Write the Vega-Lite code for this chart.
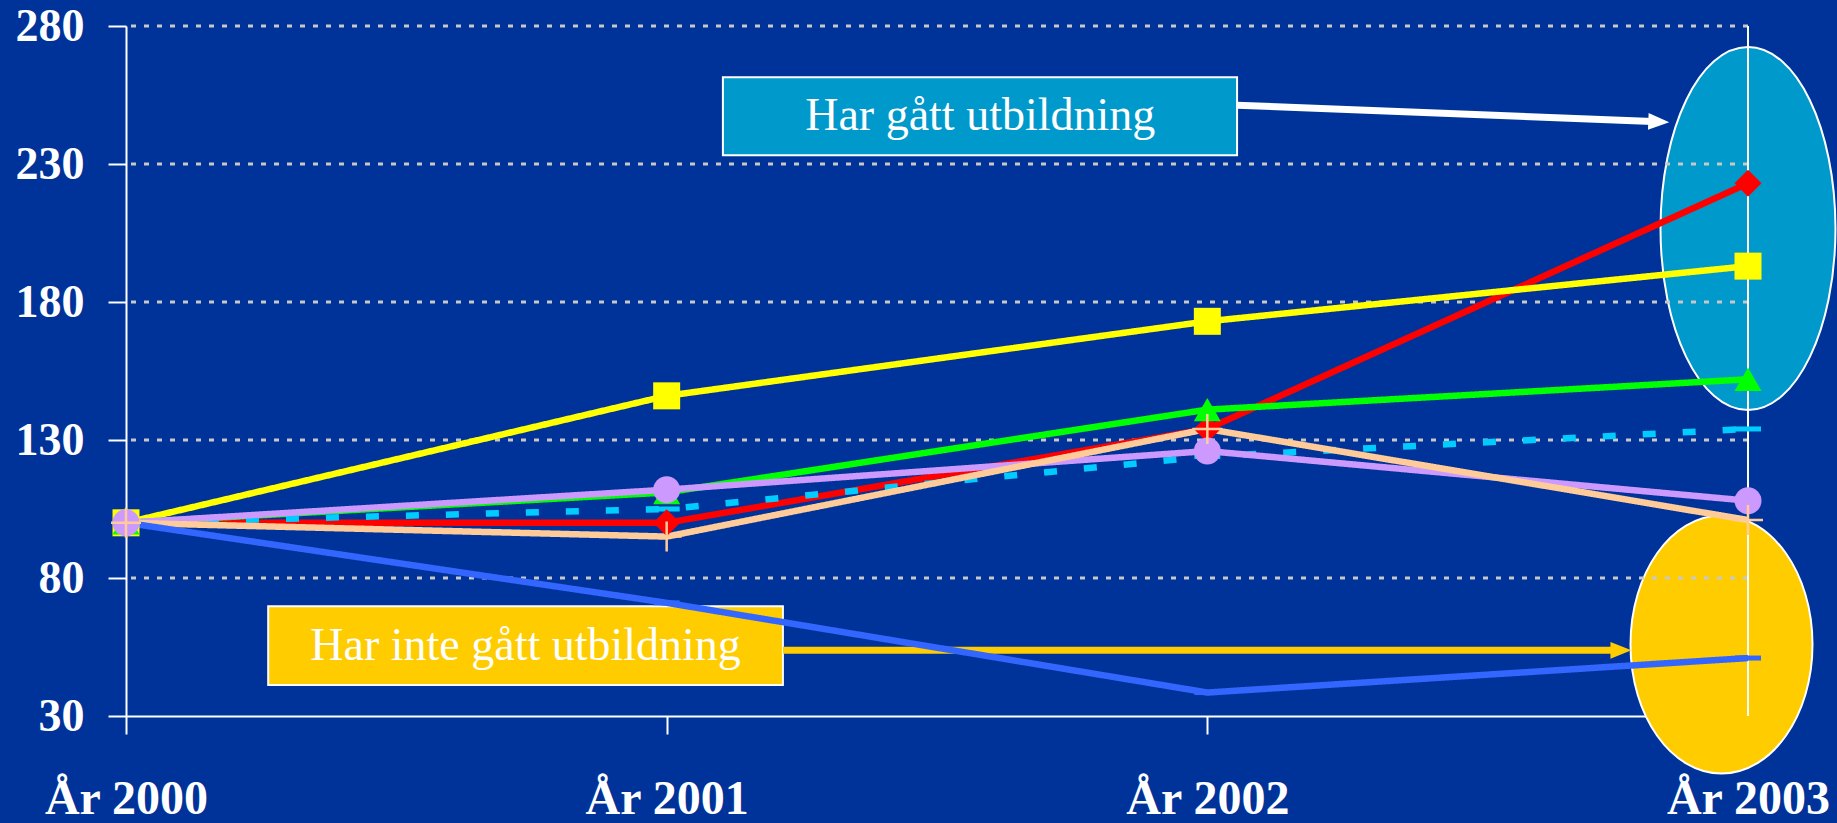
{
  "$schema": "https://vega.github.io/schema/vega-lite/v6.json",
  "width": 1622,
  "height": 690,
  "autosize": {"type": "none"},
  "padding": {"left": 126, "top": 26, "right": 89, "bottom": 107},
  "background": "#003399",
  "config": {
    "view": {"stroke": null},
    "axis": {
      "labelFont": "Liberation Serif",
      "labelFontWeight": "bold",
      "labelFontSize": 48,
      "labelColor": "white",
      "domainColor": "white",
      "domainWidth": 2,
      "tickColor": "white",
      "tickWidth": 2,
      "tickSize": 18,
      "grid": false,
      "title": null
    }
  },
  "datasets": {
    "series": [
      {"serie": "Serie 1", "year": 2000, "value": 100},
      {"serie": "Serie 1", "year": 2001, "value": 100},
      {"serie": "Serie 1", "year": 2002, "value": 134},
      {"serie": "Serie 1", "year": 2003, "value": 223},
      {"serie": "Serie 2", "year": 2000, "value": 100},
      {"serie": "Serie 2", "year": 2001, "value": 146},
      {"serie": "Serie 2", "year": 2002, "value": 173},
      {"serie": "Serie 2", "year": 2003, "value": 193},
      {"serie": "Serie 3", "year": 2000, "value": 100},
      {"serie": "Serie 3", "year": 2001, "value": 111},
      {"serie": "Serie 3", "year": 2002, "value": 141},
      {"serie": "Serie 3", "year": 2003, "value": 152},
      {"serie": "Serie 4", "year": 2000, "value": 100},
      {"serie": "Serie 4", "year": 2001, "value": 105},
      {"serie": "Serie 4", "year": 2002, "value": 124},
      {"serie": "Serie 4", "year": 2003, "value": 134},
      {"serie": "Serie 5", "year": 2000, "value": 100},
      {"serie": "Serie 5", "year": 2001, "value": 112},
      {"serie": "Serie 5", "year": 2002, "value": 126},
      {"serie": "Serie 5", "year": 2003, "value": 108},
      {"serie": "Serie 6", "year": 2000, "value": 100},
      {"serie": "Serie 6", "year": 2001, "value": 95},
      {"serie": "Serie 6", "year": 2002, "value": 134},
      {"serie": "Serie 6", "year": 2003, "value": 101},
      {"serie": "Serie 7", "year": 2000, "value": 100},
      {"serie": "Serie 7", "year": 2001, "value": 71},
      {"serie": "Serie 7", "year": 2002, "value": 38.5},
      {"serie": "Serie 7", "year": 2003, "value": 51}
    ],
    "grid": [{"g": 80}, {"g": 130}, {"g": 180}, {"g": 230}, {"g": 280}],
    "frame": [{"year": 2003}],
    "ellipseBlue": [{"year": 2003, "value": 206.6}],
    "ellipseYellow": [{"year": 2002.951, "value": 55.9}],
    "boxes": [
      {"label": "Har gått utbildning", "x": 2001.104, "x2": 2002.055, "y": 233.2, "y2": 261.45, "tx": 2001.58, "ty": 247.3},
      {"label": "Har inte gått utbildning", "x": 2000.263, "x2": 2001.215, "y": 41.2, "y2": 69.8, "tx": 2000.739, "ty": 55.5}
    ],
    "arrows": [
      {"arrow": "upper", "x": 2002.055, "y": 251.3, "x2": 2002.835, "y2": 245.3},
      {"arrow": "lower", "x": 2001.215, "y": 53.8, "x2": 2002.765, "y2": 53.8}
    ]
  },
  "layer": [
    {
      "data": {"name": "ellipseBlue"},
      "mark": {"type": "point", "filled": true, "fill": "#0099cc", "stroke": "white", "strokeWidth": 2, "opacity": 1, "fillOpacity": 1,
        "shape": "M 0.482 0 C 0.482 0.5523 0.2662 1 0 1 C -0.2662 1 -0.482 0.5523 -0.482 0 C -0.482 -0.5523 -0.2662 -1 0 -1 C 0.2662 -1 0.482 -0.5523 0.482 0 Z",
        "size": 131769},
      "encoding": {
        "x": {"field": "year", "type": "quantitative", "scale": {"domain": [2000, 2003], "nice": false, "zero": false},
          "axis": {"values": [2000, 2001, 2002, 2003], "labelExpr": "'År ' + datum.value", "labelPadding": 41, "labelFlush": false, "labelOverlap": false}},
        "y": {"field": "value", "type": "quantitative", "scale": {"domain": [30, 280], "nice": false, "zero": false},
          "axis": {"values": [30, 80, 130, 180, 230, 280], "labelPadding": 24, "labelFontSize": 46}}
      }
    },
    {
      "data": {"name": "ellipseYellow"},
      "mark": {"type": "point", "filled": true, "fill": "#ffcc00", "stroke": "white", "strokeWidth": 2, "opacity": 1, "fillOpacity": 1,
        "shape": "M 0.7054 0 C 0.7054 0.5523 0.3896 1 0 1 C -0.3896 1 -0.7054 0.5523 -0.7054 0 C -0.7054 -0.5523 -0.3896 -1 0 -1 C 0.3896 -1 0.7054 -0.5523 0.7054 0 Z",
        "size": 66564},
      "encoding": {
        "x": {"field": "year", "type": "quantitative"},
        "y": {"field": "value", "type": "quantitative"}
      }
    },
    {
      "data": {"name": "grid"},
      "mark": {"type": "rule", "stroke": "#c8c8c8", "strokeWidth": 3, "strokeDash": [5, 8]},
      "encoding": {"y": {"field": "g", "type": "quantitative"}}
    },
    {
      "data": {"name": "frame"},
      "mark": {"type": "rule", "stroke": "white", "strokeWidth": 2},
      "encoding": {"x": {"field": "year", "type": "quantitative"}}
    },
    {
      "data": {"name": "boxes"},
      "transform": [{"filter": "datum.label == 'Har gått utbildning'"}],
      "mark": {"type": "rect", "fill": "#0099cc", "stroke": "white", "strokeWidth": 2},
      "encoding": {
        "x": {"field": "x", "type": "quantitative"}, "x2": {"field": "x2"},
        "y": {"field": "y", "type": "quantitative"}, "y2": {"field": "y2"}
      }
    },
    {
      "data": {"name": "boxes"},
      "transform": [{"filter": "datum.label == 'Har inte gått utbildning'"}],
      "mark": {"type": "rect", "fill": "#ffcc00", "stroke": "white", "strokeWidth": 2},
      "encoding": {
        "x": {"field": "x", "type": "quantitative"}, "x2": {"field": "x2"},
        "y": {"field": "y", "type": "quantitative"}, "y2": {"field": "y2"}
      }
    },
    {
      "data": {"name": "boxes"},
      "mark": {"type": "text", "font": "Liberation Serif", "fontSize": 46, "color": "white", "align": "center", "baseline": "middle"},
      "encoding": {
        "x": {"field": "tx", "type": "quantitative"},
        "y": {"field": "ty", "type": "quantitative"},
        "text": {"field": "label"}
      }
    },
    {
      "data": {"name": "arrows"},
      "transform": [{"filter": "datum.arrow == 'upper'"}],
      "mark": {"type": "rule", "stroke": "white", "strokeWidth": 7},
      "encoding": {
        "x": {"field": "x", "type": "quantitative"}, "x2": {"field": "x2"},
        "y": {"field": "y", "type": "quantitative"}, "y2": {"field": "y2"}
      }
    },
    {
      "data": {"name": "arrows"},
      "transform": [{"filter": "datum.arrow == 'upper'"}],
      "mark": {"type": "point", "filled": true, "fill": "white", "opacity": 1, "shape": "M -1 -0.8 L 1 0 L -1 0.8 Z", "size": 441, "angle": 2.25},
      "encoding": {
        "x": {"field": "x2", "type": "quantitative"},
        "y": {"field": "y2", "type": "quantitative"}
      }
    },
    {
      "data": {"name": "arrows"},
      "transform": [{"filter": "datum.arrow == 'lower'"}],
      "mark": {"type": "rule", "stroke": "#ffcc00", "strokeWidth": 7},
      "encoding": {
        "x": {"field": "x", "type": "quantitative"}, "x2": {"field": "x2"},
        "y": {"field": "y", "type": "quantitative"}, "y2": {"field": "y2"}
      }
    },
    {
      "data": {"name": "arrows"},
      "transform": [{"filter": "datum.arrow == 'lower'"}],
      "mark": {"type": "point", "filled": true, "fill": "#ffcc00", "opacity": 1, "shape": "M -1 -0.8 L 1 0 L -1 0.8 Z", "size": 441},
      "encoding": {
        "x": {"field": "x2", "type": "quantitative"},
        "y": {"field": "y2", "type": "quantitative"}
      }
    },
    {
      "data": {"name": "series"},
      "mark": {"type": "line", "strokeWidth": 6.5},
      "encoding": {
        "x": {"field": "year", "type": "quantitative"},
        "y": {"field": "value", "type": "quantitative"},
        "color": {"field": "serie", "type": "nominal", "legend": null,
          "scale": {"domain": ["Serie 1", "Serie 2", "Serie 3", "Serie 4", "Serie 5", "Serie 6", "Serie 7"],
                    "range": ["#ff0000", "#ffff00", "#00ff00", "#00ccff", "#cc99ff", "#ffcc99", "#3366ff"]}},
        "strokeDash": {"field": "serie", "type": "nominal", "legend": null,
          "scale": {"domain": ["Serie 1", "Serie 2", "Serie 3", "Serie 4", "Serie 5", "Serie 6", "Serie 7"],
                    "range": [[1, 0], [1, 0], [1, 0], [13, 27], [1, 0], [1, 0], [1, 0]]}},
        "order": {"field": "year"}
      }
    },
    {
      "data": {"name": "series"},
      "transform": [{"filter": {"field": "serie", "oneOf": ["Serie 4", "Serie 7"]}}],
      "mark": {"type": "point", "filled": false, "opacity": 1, "strokeWidth": 5, "shape": "M -1 0 L 1 0", "size": 676},
      "encoding": {
        "x": {"field": "year", "type": "quantitative"},
        "y": {"field": "value", "type": "quantitative"},
        "color": {"field": "serie", "type": "nominal", "legend": null}
      }
    },
    {
      "data": {"name": "series"},
      "transform": [{"filter": {"field": "serie", "oneOf": ["Serie 1", "Serie 2", "Serie 3", "Serie 5"]}}],
      "mark": {"type": "point", "filled": true, "opacity": 1, "size": 729},
      "encoding": {
        "x": {"field": "year", "type": "quantitative"},
        "y": {"field": "value", "type": "quantitative"},
        "color": {"field": "serie", "type": "nominal", "legend": null},
        "shape": {"field": "serie", "type": "nominal", "legend": null,
          "scale": {"domain": ["Serie 1", "Serie 2", "Serie 3", "Serie 5"], "range": ["diamond", "square", "triangle-up", "circle"]}}
      }
    },
    {
      "data": {"name": "series"},
      "transform": [{"filter": "datum.serie == 'Serie 6'"}],
      "mark": {"type": "point", "filled": false, "opacity": 1, "strokeWidth": 2.5, "shape": "M -1 0 L 1 0 M 0 -1 L 0 1", "size": 900},
      "encoding": {
        "x": {"field": "year", "type": "quantitative"},
        "y": {"field": "value", "type": "quantitative"},
        "color": {"field": "serie", "type": "nominal", "legend": null}
      }
    }
  ]
}
